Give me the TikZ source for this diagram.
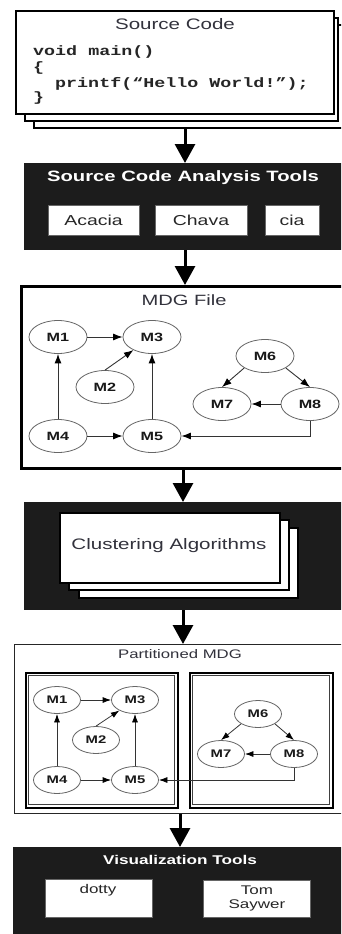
\documentclass[tikz,border=0pt]{standalone}
\usepackage{fontspec}
\usepackage{graphicx}
\setmainfont{Liberation Sans}
\newfontfamily\codefont{Liberation Mono}
\usetikzlibrary{arrows.meta,shapes.geometric}
\definecolor{darkbg}{RGB}{28,28,28}
\definecolor{txtgray}{RGB}{50,50,60}
\newcommand{\sx}[1]{\scalebox{1.35}[1]{#1}}
\newcommand{\fs}[1]{\fontsize{#1}{#1}\selectfont}
\tikzset{
  darkbox/.style={fill=darkbg, draw=none, anchor=north west, inner sep=0pt},
  toolbox/.style={fill=white, draw=black!60, line width=0.6pt, inner sep=0pt, text=black!85},
  stackbox/.style={fill=white, draw=black, line width=2pt, anchor=north west, inner sep=0pt},
  mdgbox/.style={fill=white, draw=black, line width=2.5pt, anchor=north west, inner sep=0pt},
  partbox/.style={fill=white, draw=black!85, line width=1.3pt, anchor=north west, inner sep=0pt},
  clusterbox/.style={draw=black, line width=2pt, anchor=north west, inner sep=0pt},
  clusterinner/.style={draw=black!75, line width=0.8pt, anchor=north west, inner sep=0pt},
  modA/.style={ellipse, draw=black!60, line width=0.8pt, fill=white, minimum width=58pt, minimum height=33pt, inner sep=0pt, text=black!90, font=\bfseries\fs{12}},
  modB/.style={ellipse, draw=black!60, line width=0.8pt, fill=white, minimum width=47pt, minimum height=27pt, inner sep=0pt, text=black!90, font=\bfseries\fs{11}},
  dep/.style={draw=black!80, line width=0.9pt, -{Latex[length=9.5pt,width=7pt,color=black]}},
  depB/.style={draw=black!80, line width=0.8pt, -{Latex[length=8.5pt,width=6pt,color=black]}},
  bigarrow/.style={draw=black, line width=3pt, -{Triangle[length=19pt,width=20pt]}},
  titletxt/.style={inner sep=0pt, text=txtgray},
  codetxt/.style={inner sep=0pt, anchor=base west, text=black!85, font=\codefont\bfseries\fs{13.6}},
  whitetitle/.style={inner sep=0pt, text=white, font=\bfseries},
}
\begin{document}
\begin{tikzpicture}[x=1pt,y=-1pt]
\useasboundingbox (0,0) rectangle (341,934);
\clip (0,0) rectangle (341,934);
\fill[white] (0,0) rectangle (341,934);

% ---------- Source code stack ----------
\node[stackbox, minimum width=312pt, minimum height=103pt] (src3) at (33,24) {};
\node[stackbox, minimum width=313pt, minimum height=103pt] (src2) at (24,17) {};
\node[stackbox, minimum width=318pt, minimum height=103pt] (src1) at (15,10) {};
\node[titletxt, font=\fs{15.2}] (tsrc) at (175,24) {\sx{Source Code}};
\node[codetxt] (c1) at (33,56) {\sx{void main()}};
\node[codetxt] (c2) at (33,71) {\sx{\{}};
\node[codetxt] (c3) at (55,87) {\sx{printf(“Hello World!”);}};
\node[codetxt] (c4) at (33,101) {\sx{\}}};

% ---------- Source code analysis tools ----------
\node[darkbox, minimum width=330pt, minimum height=87pt] (sca) at (24,163) {};
\node[whitetitle, font=\bfseries\fs{15}] (tsca) at (183,178) {\sx{Source Code Analysis Tools}};
\node[toolbox, minimum width=91pt, minimum height=30pt, font=\fs{14.4}] (acacia) at (93.5,220) {\sx{Acacia}};
\node[toolbox, minimum width=92pt, minimum height=30pt, font=\fs{14.4}] (chava) at (201,220) {\sx{Chava}};
\node[toolbox, minimum width=54pt, minimum height=30pt, font=\fs{14.4}] (cia) at (292,220) {\sx{cia}};

% ---------- MDG file ----------
\node[mdgbox, minimum width=330pt, minimum height=182pt] (mdg) at (20,285) {};
\node[titletxt, font=\fs{14.9}] (tmdg) at (184,300) {\sx{MDG File}};
\node[modA] (a1) at (58,337) {\sx{M1}};
\node[modA] (a3) at (152,337) {\sx{M3}};
\node[modA] (a2) at (105,387) {\sx{M2}};
\node[modA] (a4) at (58,436) {\sx{M4}};
\node[modA] (a5) at (152,436) {\sx{M5}};
\node[modA] (a6) at (265,356) {\sx{M6}};
\node[modA] (a7) at (222,404) {\sx{M7}};
\node[modA] (a8) at (310,404) {\sx{M8}};
\draw[dep] (a1) -- (a3);
\draw[dep] (a2.north) -- (a3);
\draw[dep] (a4) -- (a1);
\draw[dep] (a5) -- (a3);
\draw[dep] (a4) -- (a5);
\draw[dep] (a6.south west) -- (a7.north);
\draw[dep] (a6.south east) -- (a8.north);
\draw[dep] (a8) -- (a7);
\draw[dep] (a8.south) |- (a5.east);

% ---------- Clustering algorithms ----------
\node[darkbox, minimum width=330pt, minimum height=108pt] (clu) at (24,502) {};
\node[stackbox, minimum width=219pt, minimum height=70pt] (cl3) at (78,527) {};
\node[stackbox, minimum width=220pt, minimum height=70pt] (cl2) at (68,519) {};
\node[stackbox, minimum width=220pt, minimum height=70pt] (cl1) at (59,512) {};
\node[titletxt, font=\fs{15.2}] (tclu) at (169,546) {\sx{Clustering Algorithms}};

% ---------- Partitioned MDG ----------
\node[partbox, minimum width=340pt, minimum height=169pt] (part) at (14,644) {};
\node[titletxt, font=\fs{12.4}] (tpart) at (180,654) {\sx{Partitioned MDG}};
\node[clusterbox, minimum width=152pt, minimum height=135pt] (k1) at (25,672) {};
\node[clusterinner, minimum width=146pt, minimum height=129pt] (k1i) at (28,675) {};
\node[clusterbox, minimum width=143pt, minimum height=135pt] (k2) at (189,672) {};
\node[clusterinner, minimum width=137pt, minimum height=129pt] (k2i) at (192,675) {};
\node[modB] (b1) at (57,700) {\sx{M1}};
\node[modB] (b3) at (135,700) {\sx{M3}};
\node[modB] (b2) at (96,740) {\sx{M2}};
\node[modB] (b4) at (57,780) {\sx{M4}};
\node[modB] (b5) at (135,780) {\sx{M5}};
\node[modB] (b6) at (258,714) {\sx{M6}};
\node[modB] (b7) at (221,754) {\sx{M7}};
\node[modB] (b8) at (294,754) {\sx{M8}};
\draw[depB] (b1) -- (b3);
\draw[depB] (b2.north) -- (b3);
\draw[depB] (b4) -- (b1);
\draw[depB] (b5) -- (b3);
\draw[depB] (b4) -- (b5);
\draw[depB] (b6.south west) -- (b7.north);
\draw[depB] (b6.south east) -- (b8.north);
\draw[depB] (b8) -- (b7);
\draw[depB] (b8.south) |- (b5.east);

% ---------- Visualization tools ----------
\node[darkbox, minimum width=340pt, minimum height=95pt] (vis) at (13,847) {};
\node[whitetitle, font=\bfseries\fs{12.7}] (tvis) at (180,860) {\sx{Visualization Tools}};
\node[toolbox, minimum width=107pt, minimum height=38pt] (dotty) at (98.5,898) {};
\node[inner sep=0pt, text=black!85, font=\fs{12.6}] (tdotty) at (98,890) {\sx{dotty}};
\node[toolbox, minimum width=107pt, minimum height=37pt] (tom) at (256.5,898.5) {};
\node[inner sep=0pt, text=black!85, font=\fs{12.6}, align=center] (ttom) at (257,898.5) {\sx{Tom}\\[0.5pt]\sx{Saywer}};

% ---------- big flow arrows ----------
\coordinate (ax1) at (185,0);
\coordinate (ax2) at (185,0);
\coordinate (ax3) at (183,0);
\coordinate (ax4) at (183,0);
\coordinate (ax5) at (180,0);
\draw[bigarrow] (src3.south -| ax1) -- (sca.north -| ax1);
\draw[bigarrow] (sca.south -| ax2) -- (mdg.north -| ax2);
\draw[bigarrow] (mdg.south -| ax3) -- (clu.north -| ax3);
\draw[bigarrow] (clu.south -| ax4) -- (part.north -| ax4);
\draw[bigarrow] (part.south -| ax5) -- (vis.north -| ax5);
\end{tikzpicture}
\end{document}
